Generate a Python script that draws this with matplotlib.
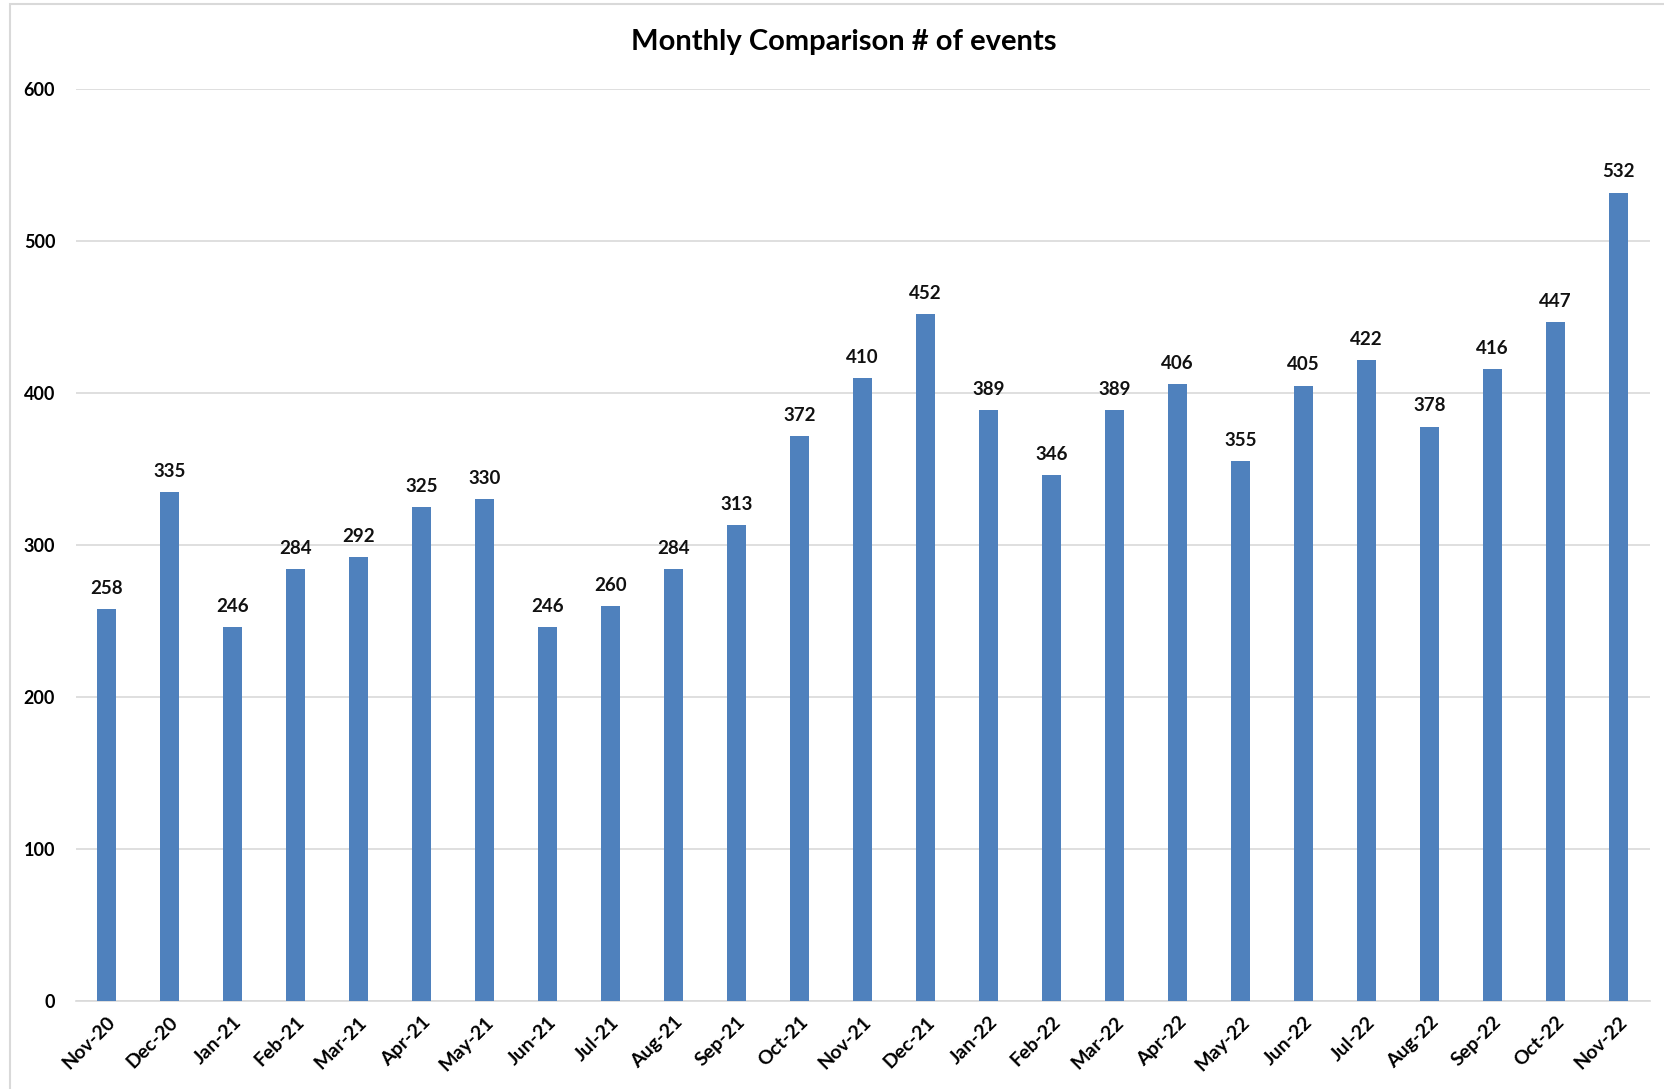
import matplotlib
matplotlib.use('Agg')
import matplotlib.pyplot as plt
from matplotlib.patches import Rectangle

months = ['Nov-20', 'Dec-20', 'Jan-21', 'Feb-21', 'Mar-21', 'Apr-21', 'May-21',
          'Jun-21', 'Jul-21', 'Aug-21', 'Sep-21', 'Oct-21', 'Nov-21', 'Dec-21',
          'Jan-22', 'Feb-22', 'Mar-22', 'Apr-22', 'May-22', 'Jun-22', 'Jul-22',
          'Aug-22', 'Sep-22', 'Oct-22', 'Nov-22']
events = [258, 335, 246, 284, 292, 325, 330, 246, 260, 284, 313, 372, 410, 452,
          389, 346, 389, 406, 355, 405, 422, 378, 416, 447, 532]
yticks = [0, 100, 200, 300, 400, 500, 600]

plt.rcParams['font.family'] = ['Lato', 'DejaVu Sans']

fig = plt.figure(figsize=(16.64, 10.89), dpi=100)
ax = fig.add_axes([0.0457, 0.081, 0.946, 0.837])

# chart frame like the spreadsheet export
fig.patches.append(Rectangle((10 / 1664, -0.05), 1.1, 1.05 - 4 / 1089,
                             transform=fig.transFigure, fill=False,
                             edgecolor='#D9D9D9', linewidth=1.5))

x = range(len(months))
ax.bar(x, events, width=0.31, color='#4F81BD', zorder=3)
for i, v in enumerate(events):
    ax.text(i, v + 8, str(v), ha='center', va='bottom', fontsize=13.5,
            fontweight='bold', color='#111111')

ax.set_xlim(-0.48, len(months) - 0.5)
ax.set_ylim(0, 600)
ax.set_yticks(yticks)
ax.set_yticklabels([str(t) for t in yticks], fontsize=13, fontweight='bold')
ax.set_xticks(list(x))
ax.set_xticklabels(months, rotation=45, ha='right', rotation_mode='anchor',
                   fontsize=14, fontweight='bold')
ax.tick_params(length=0, pad=15, axis='y')
ax.tick_params(length=0, pad=9, axis='x')
ax.grid(axis='y', color='#D9D9D9', linewidth=1.2, zorder=0)
for s in ['top', 'right', 'left']:
    ax.spines[s].set_visible(False)
ax.spines['bottom'].set_color('#D9D9D9')
ax.spines['bottom'].set_linewidth(1.2)

fig.text(0.507, 1 - 42 / 1089, 'Monthly Comparison # of events', ha='center',
         va='center', fontsize=21, fontweight='bold')

fig.savefig('out.png', dpi=100)
